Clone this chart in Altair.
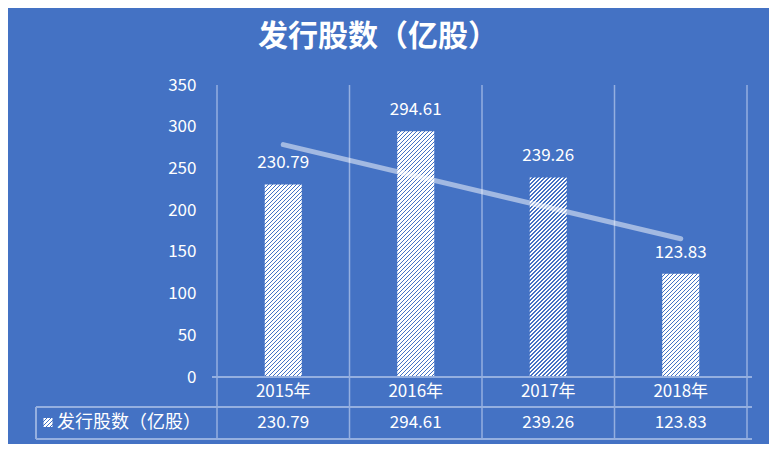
import math
import altair as alt
import pandas as pd

# ---- data ----
title_text = "发行股数（亿股）"
series_name = "发行股数（亿股）"
years = ["2015年", "2016年", "2017年", "2018年"]
values = [230.79, 294.61, 239.26, 123.83]
y_ticks = [0, 50, 100, 150, 200, 250, 300, 350]

# ---- style ----
BG = "#4472C4"
LINE = "#94afe0"
FONT = "Noto Sans CJK SC"
FS = 17
W, H = 540, 292
YMAX = 350
BAR_W = 37

df = pd.DataFrame({
    "idx": list(range(1, len(years) + 1)),
    "year": years,
    "value": values,
    "label": [f"{v:.2f}" for v in values],
})
bounds = pd.DataFrame({"b": [i + 0.5 for i in range(len(years) + 1)]})
one = pd.DataFrame({"k": [0]})


def hatch(w, h, period=4.0, blue_frac=0.3):
    L = w + h
    k = L / (w * w + h * h)
    p = period / L
    stops = []
    n = int(math.ceil(1 / p))
    for i in range(n):
        a = round(i * p, 5)
        m = round(min(1, i * p + (1 - blue_frac) * p), 5)
        e = round(min(1, (i + 1) * p), 5)
        stops += [
            alt.GradientStop(offset=a, color="white"),
            alt.GradientStop(offset=m, color="white"),
            alt.GradientStop(offset=m, color=BG),
            alt.GradientStop(offset=e, color=BG),
        ]
    return alt.LinearGradient(gradient="linear", stops=stops,
                              x1=0, y1=0, x2=round(k * w, 5), y2=round(k * h, 5))


x_scale = alt.Scale(domain=[0.5, len(years) + 0.5], nice=False, zero=False)
x_enc = alt.X("idx:Q", scale=x_scale, axis=None)
y_enc = alt.Y("value:Q", scale=alt.Scale(domain=[0, YMAX], nice=False),
              axis=alt.Axis(values=y_ticks, title=None, labelColor="white",
                            labelFontSize=FS, labelFont=FONT, labelPadding=16,
                            ticks=False, domain=False, grid=False))

base = alt.Chart(df)

grid = alt.Chart(bounds).mark_rule(color=LINE, strokeWidth=1.5).encode(
    x=alt.X("b:Q", scale=x_scale, axis=None),
    y=alt.value(0), y2=alt.value(354))

bars = []
for i, v in enumerate(values):
    h = v / YMAX * H
    bars.append(
        base.transform_filter(alt.datum.idx == i + 1)
        .mark_bar(size=BAR_W, fill=hatch(BAR_W, h), stroke=None)
        .encode(x=x_enc, y=y_enc)
    )

trend = base.transform_regression("idx", "value").mark_line(
    color="white", opacity=0.5, strokeWidth=5, strokeCap="round"
).encode(x=x_enc, y=y_enc)

labels = base.mark_text(dy=-21, color="white", fontSize=FS, font=FONT,
                        baseline="middle").encode(x=x_enc, y=y_enc, text="label")

year_row = base.mark_text(color="white", fontSize=FS, font=FONT,
                          baseline="middle").encode(x=x_enc, y=alt.value(307), text="year")
val_row = base.mark_text(color="white", fontSize=FS, font=FONT,
                         baseline="middle").encode(x=x_enc, y=alt.value(338), text="label")

tline = alt.Chart(one)
hl1 = tline.mark_rule(color=LINE, strokeWidth=2).encode(
    x=alt.value(0), x2=alt.value(W), y=alt.value(292))
hl2 = tline.mark_rule(color=LINE, strokeWidth=2).encode(
    x=alt.value(-176), x2=alt.value(W), y=alt.value(322))
hl3 = tline.mark_rule(color=LINE, strokeWidth=2).encode(
    x=alt.value(-176), x2=alt.value(W), y=alt.value(354))
vl0 = tline.mark_rule(color=LINE, strokeWidth=2).encode(
    x=alt.value(-176), y=alt.value(322), y2=alt.value(354))

series_lbl = alt.Chart(pd.DataFrame({"t": [series_name]})).mark_text(
    align="left", baseline="middle", color="white", fontSize=18, font=FONT
).encode(x=alt.value(-155), y=alt.value(338), text="t")

swatch = tline.mark_rect(fill=hatch(9, 9), stroke=None).encode(
    x=alt.value(-168.5), x2=alt.value(-159.5), y=alt.value(333), y2=alt.value(342))

title = alt.Chart(pd.DataFrame({"t": [title_text]})).mark_text(
    align="center", baseline="middle", color="white", fontSize=30,
    fontWeight="bold", font=FONT
).encode(x=alt.value(166), y=alt.value(-48), text="t")

chart = alt.layer(
    grid, *bars, trend, labels, year_row, val_row,
    hl1, hl2, hl3, vl0, series_lbl, swatch, title
).properties(
    width=W, height=H,
    padding={"left": 204, "top": 77, "right": 17, "bottom": 67},
    autosize="none",
    background=BG,
).configure_view(stroke=None)

chart.save("out.html", embed_options={"renderer": "svg", "actions": False})
